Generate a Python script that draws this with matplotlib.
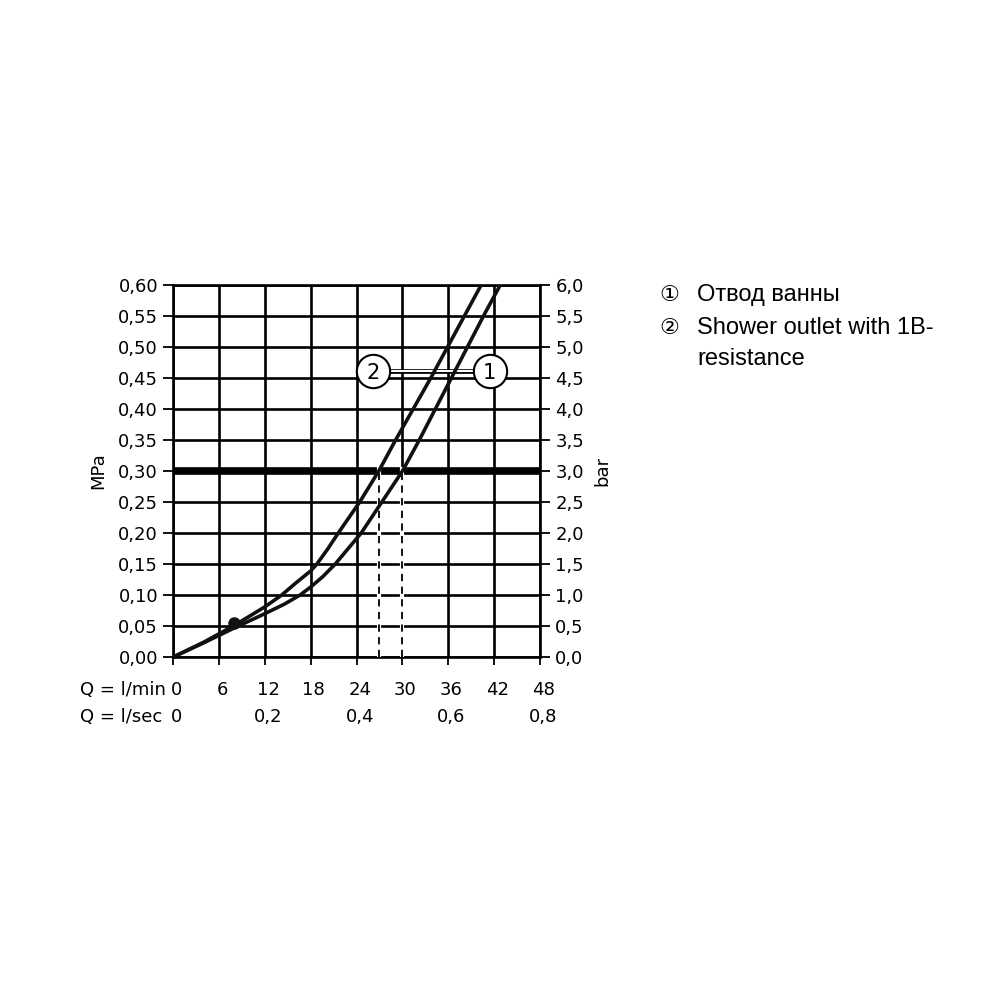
import numpy as np
import matplotlib
matplotlib.use("Agg")
import matplotlib.pyplot as plt
import matplotlib.transforms as mtransforms

# Daten
q_ticks = [0, 6, 12, 18, 24, 30, 36, 42, 48]
ls_ticks = [0, 12, 24, 36, 48]
ls_labels = ['0', '0,2', '0,4', '0,6', '0,8']
mpa_ticks = [0.00, 0.05, 0.10, 0.15, 0.20, 0.25, 0.30, 0.35, 0.40, 0.45, 0.50, 0.55, 0.60]
bar_ticks = [0.0, 0.5, 1.0, 1.5, 2.0, 2.5, 3.0, 3.5, 4.0, 4.5, 5.0, 5.5, 6.0]

# Kurve 1: Отвод ванны
q1 = [0, 4, 8, 12, 14.5, 16.6, 18, 19.6, 21.2, 24.6, 27.3, 30.0, 32.2, 34.3, 36.4, 38.5, 40.6, 42.8]
p1 = [0, 0.023, 0.047, 0.070, 0.085, 0.100, 0.113, 0.130, 0.150, 0.20, 0.25, 0.30, 0.35, 0.40, 0.45, 0.50, 0.55, 0.60]
# Kurve 2: Shower outlet with 1B-resistance
q2 = [0, 4, 8, 12, 14.2, 16, 18, 18.8, 20.2, 21.6, 24.4, 26.9, 29.1, 31.4, 33.7, 35.9, 38.1, 40.3]
p2 = [0, 0.024, 0.051, 0.081, 0.100, 0.119, 0.139, 0.150, 0.174, 0.20, 0.25, 0.30, 0.35, 0.40, 0.45, 0.50, 0.55, 0.60]

# Punkt
dot_q, dot_p = 7.9, 0.055
p_ref = 0.30

# Beschriftungskreise
lab_y = 0.462
lab2_q = 26.2
lab1_q = 41.4

fig = plt.figure(figsize=(10, 10), dpi=100)
ax = fig.add_axes([0.1733, 0.343, 0.3667, 0.372])

ax.set_xlim(0, 48)
ax.set_ylim(0, 0.60)
ax.set_xticks(q_ticks)
ax.set_yticks(mpa_ticks)
ax.set_yticklabels([f'{v:.2f}'.replace('.', ',') for v in mpa_ticks], fontsize=13)
ax.set_xticklabels([])
ax.grid(True, color='black', linewidth=1.9)
ax.set_axisbelow(True)
ax.tick_params(axis='y', direction='out', length=7, width=1.3, pad=4)
ax.tick_params(axis='x', direction='out', length=6, width=1.3)
for s in ax.spines.values():
    s.set_linewidth(1.9)
ax.set_ylabel('MPa', fontsize=13, labelpad=8)

ax2 = ax.twinx()
ax2.set_ylim(0, 6)
ax2.set_yticks(bar_ticks)
ax2.set_yticklabels([f'{v:.1f}'.replace('.', ',') for v in bar_ticks], fontsize=13)
ax2.tick_params(axis='y', direction='out', length=7, width=1.3, pad=4)
for s in ax2.spines.values():
    s.set_visible(False)
ax2.set_ylabel('bar', fontsize=13, rotation=90, labelpad=7)

# dicke Linie bei 0,30 MPa
ax.axhline(p_ref, color='black', linewidth=5.5, zorder=3)

# gestrichelte Linien (weiss hinterlegt)
for qq, pp in [(q1, p1), (q2, p2)]:
    qx = np.interp(p_ref, pp, qq)
    ax.plot([qx, qx], [0.002, p_ref + 0.004], color='white', linewidth=3.0, zorder=4)
    ax.plot([qx, qx], [0, p_ref], color='black', linewidth=1.3, dashes=(4, 3), zorder=5)

# Verbindungslinie zwischen den Kreisen
ax.plot([lab2_q, lab1_q], [lab_y, lab_y], color='black', linewidth=3.4, zorder=4, solid_capstyle='butt')
ax.plot([lab2_q, lab1_q], [lab_y, lab_y], color='white', linewidth=1.5, zorder=4.5, solid_capstyle='butt')

# Kurven
ax.plot(q1, p1, color='#111111', linewidth=2.6, zorder=6, solid_joinstyle='round')
ax.plot(q2, p2, color='#111111', linewidth=2.6, zorder=6, solid_joinstyle='round')
ax.plot([dot_q], [dot_p], 'o', color='#111111', markersize=8, zorder=7)

# Kreise
for qq, txt in [(lab2_q, '2'), (lab1_q, '1')]:
    ax.plot([qq], [lab_y], 'o', markersize=24, markerfacecolor='white',
            markeredgecolor='black', markeredgewidth=1.5, zorder=8, clip_on=False)
    ax.text(qq, lab_y, txt, ha='center', va='center_baseline', fontsize=15, zorder=9)

# Achsenbeschriftung unten
tr = mtransforms.blended_transform_factory(ax.transData, fig.transFigure)
for v in q_ticks:
    ax.text(v + 0.4, 0.310, str(v), transform=tr, ha='center', va='center', fontsize=13)
for v, lab in zip(ls_ticks, ls_labels):
    ax.text(v + 0.4, 0.283, lab, transform=tr, ha='center', va='center', fontsize=13)
fig.text(0.080, 0.310, 'Q = l/min', ha='left', va='center', fontsize=13)
fig.text(0.080, 0.283, 'Q = l/sec', ha='left', va='center', fontsize=13)

# Legende rechts
lf = ['Liberation Sans', 'DejaVu Sans']
fig.text(0.659, 0.705, '\u2460', ha='left', va='center', fontsize=16, family=['DejaVu Sans'])
fig.text(0.697, 0.705, 'Отвод ванны', ha='left', va='center', fontsize=17, family=lf)
fig.text(0.659, 0.672, '\u2461', ha='left', va='center', fontsize=16, family=['DejaVu Sans'])
fig.text(0.697, 0.672, 'Shower outlet with 1B-', ha='left', va='center', fontsize=17, family=lf)
fig.text(0.697, 0.641, 'resistance', ha='left', va='center', fontsize=17, family=lf)

plt.savefig('out.png', dpi=100)
